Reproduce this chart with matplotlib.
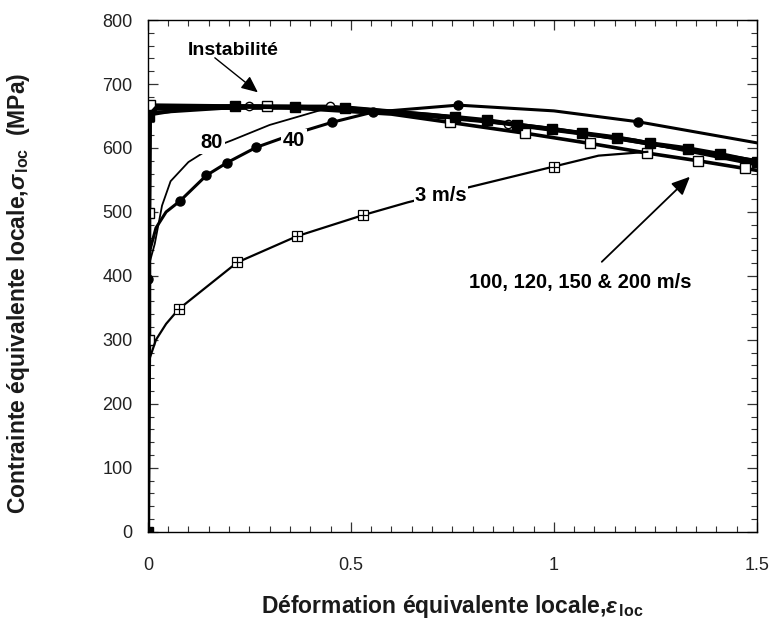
import matplotlib
matplotlib.use("Agg")
import matplotlib.pyplot as plt
from matplotlib.ticker import MultipleLocator

plt.rcParams["font.family"] = ["Liberation Sans", "DejaVu Sans"]
plt.rcParams["mathtext.fontset"] = "custom"
plt.rcParams["mathtext.rm"] = "Liberation Sans:bold"
plt.rcParams["mathtext.it"] = "Liberation Sans:italic:bold"
plt.rcParams["mathtext.bf"] = "Liberation Sans:bold"

# 3 m/s (open squares with cross)
x_3 = [0.0, 0.004, 0.02, 0.045, 0.076, 0.22, 0.367, 0.53, 0.64, 0.8, 1.0, 1.11, 1.23]
y_3 = [0, 270, 300, 325, 348, 421, 462, 495, 515, 540, 571, 588, 594]
mk_3 = [4, 5, 6, 7, 10]

# 40 m/s (filled circles)
x_40 = [0.0, 0.005, 0.02, 0.045, 0.079, 0.144, 0.195, 0.267, 0.36, 0.453, 0.554, 0.764, 1.0, 1.207, 1.5]
y_40 = [395, 440, 475, 500, 517, 557, 577, 601, 622, 640, 656, 667, 658, 641, 608]
mk_40 = [0, 4, 5, 6, 7, 9, 10, 11, 13]

# 80 m/s (thin line)
x_80 = [0.004, 0.017, 0.035, 0.056, 0.1, 0.135, 0.17, 0.207, 0.3, 0.43, 0.5]
y_80 = [420, 450, 510, 548, 578, 592, 603, 612, 636, 660, 664]

# 100, 120, 150 & 200 m/s bundle
x_200 = [0.0, 0.003, 0.02, 0.214, 0.362, 0.485, 0.6, 0.756, 0.835, 0.91, 0.995, 1.07, 1.155, 1.236, 1.33, 1.41, 1.5]
y_200 = [0, 650, 662, 665, 664, 662, 656, 648, 643, 636, 629, 623, 616, 607, 599, 590, 578]
mk_200 = [0, 1, 3, 4, 5, 7, 8, 9, 10, 11, 12, 13, 14, 15, 16]

x_150 = [0.0, 0.004, 0.004, 0.006, 0.293, 0.6, 0.744, 0.93, 1.09, 1.23, 1.355, 1.47, 1.5]
y_150 = [0, 300, 498, 667, 665, 653, 640, 623, 607, 592, 580, 568, 565]
mk_150 = [1, 2, 3, 4, 6, 7, 8, 9, 10, 11]

x_120 = [0.0, 0.004, 0.25, 0.448, 0.6, 0.887, 1.2, 1.5]
y_120 = [0, 655, 665, 665, 655, 638, 612, 574]
mk_120 = [2, 3, 5]

x_100 = [0.0, 0.003, 0.1, 0.5, 0.7, 1.0, 1.3, 1.5]
y_100 = [0, 652, 662, 663, 652, 630, 600, 580]

fig = plt.figure(figsize=(7.7, 6.27), dpi=100)
ax = fig.add_axes([0.192, 0.152, 0.791, 0.816])

k = "black"
ax.plot(x_100, y_100, color=k, lw=2.6)
ax.plot(x_120, y_120, color=k, lw=2.6, marker="o", ms=6, mfc="white",
        mec=k, mew=1.0, markevery=mk_120)
ax.plot(x_150, y_150, color=k, lw=2.6, marker="s", ms=6.5, mfc="white",
        mec=k, mew=1.0, markevery=mk_150)
ax.plot(x_200, y_200, color=k, lw=3.4, marker="s", ms=6.5, mfc=k,
        mec=k, markevery=mk_200)

ax.plot(x_80, y_80, color=k, lw=1.3)
ax.plot(x_40, y_40, color=k, lw=2.2, marker="o", ms=6.5, mfc=k,
        mec=k, markevery=mk_40)
ax.plot(x_3, y_3, color=k, lw=1.6, marker="s", ms=7, mfc="white",
        mec=k, mew=0.9, markevery=mk_3)
ax.plot([x_3[i] for i in mk_3], [y_3[i] for i in mk_3], ls="none",
        marker="+", ms=7, mec=k, mew=0.9)

# curve labels sit in gaps of their lines
box = dict(facecolor="white", edgecolor="none", pad=1.0)
ax.text(0.158, 608, "80", fontsize=14.5, fontweight="bold", ha="center",
        va="center", bbox=box, zorder=5)
ax.text(0.36, 612, "40", fontsize=14.5, fontweight="bold", ha="center",
        va="center", bbox=box, zorder=5)
ax.text(0.722, 526, "3 m/s", fontsize=14.5, fontweight="bold", ha="center",
        va="center", bbox=box, zorder=5)
ax.text(1.064, 389, "100, 120, 150 & 200 m/s", fontsize=14.5,
        fontweight="bold", ha="center", va="center")

ax.text(0.21, 753, "Instabilité", fontsize=14, fontweight="bold",
        ha="center", va="center")
ax.annotate("", xy=(0.271, 687), xytext=(0.165, 741),
            arrowprops=dict(arrowstyle="-|>,head_length=1.0,head_width=0.45",
                            color=k, lw=1.0, shrinkA=0, shrinkB=0))
ax.annotate("", xy=(1.335, 555), xytext=(1.118, 422),
            arrowprops=dict(arrowstyle="-|>,head_length=1.1,head_width=0.5",
                            color=k, lw=1.3, shrinkA=0, shrinkB=0))

ax.set_xlim(0, 1.5)
ax.set_ylim(0, 800)
ax.xaxis.set_major_locator(MultipleLocator(0.5))
ax.xaxis.set_minor_locator(MultipleLocator(0.05))
ax.yaxis.set_major_locator(MultipleLocator(100))
ax.yaxis.set_minor_locator(MultipleLocator(20))
ax.set_xticks([0, 0.5, 1, 1.5], ["0", "0.5", "1", "1.5"])
ax.tick_params(which="both", direction="in", top=True, right=True,
               color="#333333", labelcolor="#222222")
ax.tick_params(which="major", length=7, width=0.9)
ax.tick_params(which="minor", length=4, width=0.8)
ax.tick_params(axis="x", pad=18, labelsize=13)
ax.tick_params(axis="y", pad=11, labelsize=13)
for s in ax.spines.values():
    s.set_linewidth(1.0)

ax.set_xlabel(r"Déformation équivalente locale,$\varepsilon_{\,\mathrm{loc}}$",
              fontsize=16.5, fontweight="bold", labelpad=14, color="#1a1a1a")
ax.set_ylabel(r"Contrainte équivalente locale,$\sigma_{\,\mathrm{loc}}$  (MPa)",
              fontsize=16.5, fontweight="bold", color="#1a1a1a")
ax.yaxis.set_label_coords(-0.19, 0.465)

fig.savefig("out.png", dpi=100)
